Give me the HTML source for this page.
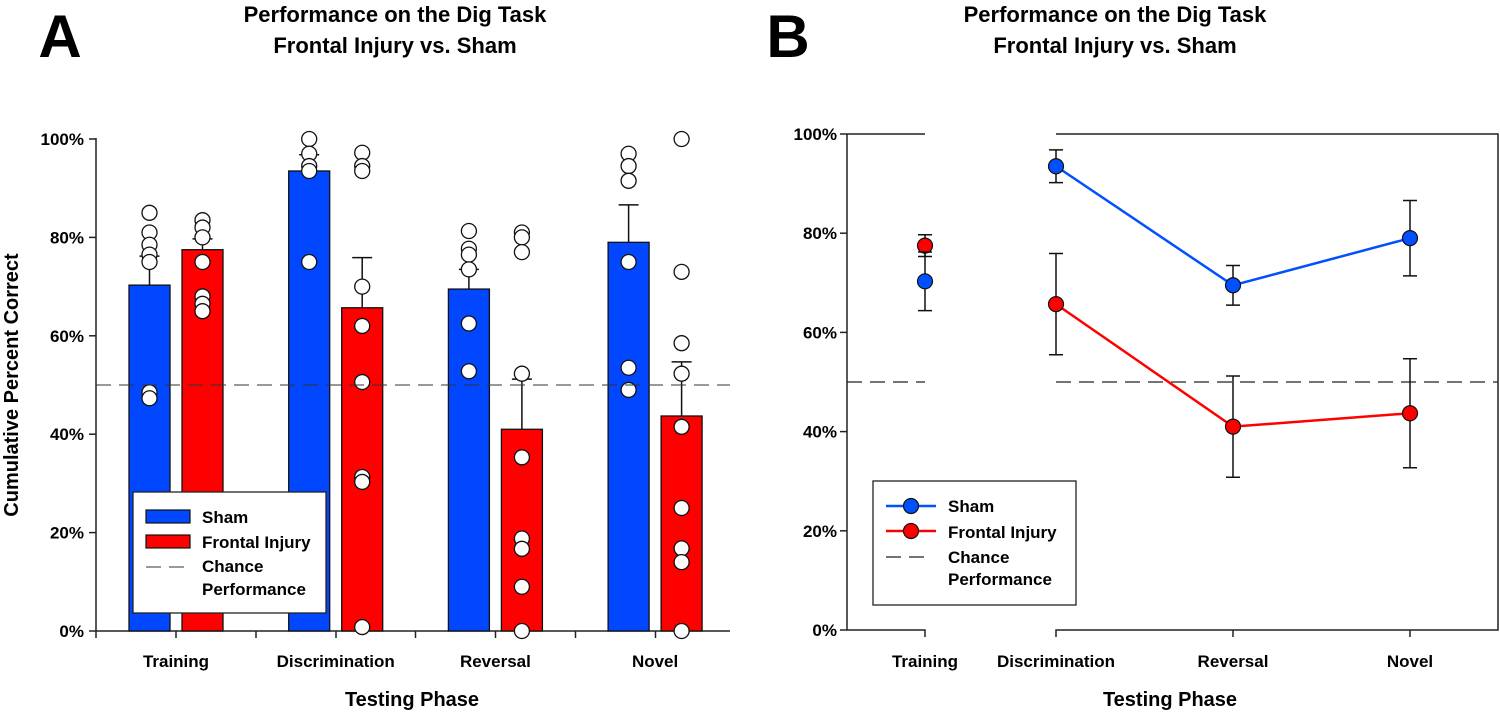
<!DOCTYPE html>
<html><head><meta charset="utf-8"><style>
html,body{margin:0;padding:0;background:#fff;}
svg{display:block;font-family:"Liberation Sans",Arial,sans-serif;font-weight:bold;}
</style></head><body>
<svg id="chart" width="1500" height="715" viewBox="0 0 1500 715" xmlns="http://www.w3.org/2000/svg">
<g id="gA"></g>
<g id="gB"></g>
</svg>
<script>
const categories = ["Training","Discrimination","Reversal","Novel"];
const shamMeans = [70.3, 93.5, 69.5, 79.0];
const shamSE = [5.9, 3.3, 4.0, 7.6];
const injuryMeans = [77.5, 65.7, 41.0, 43.7];
const injurySE = [2.2, 10.2, 10.2, 11.0];
const chance = 50;
const yTicks = [0,20,40,60,80,100];
const shamDots = [[85,81,78.5,76.5,75,48.5,47.3],[100,97,94.5,93.5,75],[81.3,77.7,76.5,73.5,62.5,52.8],[97,94.5,91.5,75,53.5,49]];
const injuryDots = [[83.5,82,80,75,68,66.5,65],[97.2,94.5,93.5,70,62,50.6,31.3,30.3,0.8],[81,80,77,52.3,35.3,18.8,16.7,9,0],[100,73,58.5,52.3,41.5,25,16.8,14,0]];

const NS="http://www.w3.org/2000/svg";
function mk(p,tag,attrs,txt){const e=document.createElementNS(NS,tag);for(const k in attrs)e.setAttribute(k,attrs[k]);if(txt!==undefined)e.textContent=txt;p.appendChild(e);return e;}
const svg=document.getElementById('chart');
const gA=document.getElementById('gA'), gB=document.getElementById('gB');

let t;
t=mk(svg,'text',{x:60,y:57,'font-size':60,'text-anchor':'middle'},'A');


t=mk(svg,'text',{x:788,y:57,'font-size':60,'text-anchor':'middle'},'B');


[[395,'panel-a-title'],[1115,'panel-b-title']].forEach(([cx,n])=>{
  const tt=mk(svg,'text',{x:cx,y:22,'font-size':22,'text-anchor':'middle'});
  
  
  mk(tt,'tspan',{x:cx,y:22},'Performance on the Dig Task');
  mk(tt,'tspan',{x:cx,y:53},'Frontal Injury vs. Sham');
});

// ---------- Panel A ----------
const aX0=96, aX1=730, aY0=631, aY1=139;
const ay=v=>aY0+(aY1-aY0)*v/100;
const acx=i=>176+i*159.7;
mk(gA,'line',{x1:aX0,y1:aY1-1,x2:aX0,y2:aY0,stroke:'#222','stroke-width':1.5});
mk(gA,'line',{x1:aX0,y1:aY0,x2:aX1,y2:aY0,stroke:'#222','stroke-width':1.5});
yTicks.forEach(v=>{
  mk(gA,'line',{x1:aX0-7,y1:ay(v),x2:aX0,y2:ay(v),stroke:'#222','stroke-width':1.5});
  t=mk(gA,'text',{x:aX0-12,y:ay(v)+6,'font-size':17,'text-anchor':'end'},v+'%');
  
  
});
for(let k=0;k<8;k++){const x=aX0+80*k+(k>3?-0.5:0);mk(gA,'line',{x1:x,y1:aY0,x2:x,y2:aY0+7,stroke:'#222','stroke-width':1.5});}
categories.forEach((c,i)=>{
  t=mk(gA,'text',{x:acx(i),y:667,'font-size':17,'text-anchor':'middle'},c);
  
  
});
t=mk(gA,'text',{x:412,y:706,'font-size':20,'text-anchor':'middle'},'Testing Phase');


t=mk(gA,'text',{x:0,y:0,'font-size':20,'text-anchor':'middle',transform:'translate(18,385) rotate(-90)'},'Cumulative Percent Correct');



function barGroup(i,off,mean,se,dots,color,name){
  const x=acx(i)+off-20.5;
  const r=mk(gA,'rect',{x:x,y:ay(mean),width:41,height:aY0-ay(mean),fill:color,stroke:'#111','stroke-width':1.3});
  
  
  const cx=x+20.5;
  const e=mk(gA,'path',{d:`M${cx},${ay(mean)}V${ay(mean+se)}M${cx-10},${ay(mean+se)}H${cx+10}`,stroke:'#111','stroke-width':1.5,fill:'none'});
  
  
  dots.forEach(d=>{
    const c=mk(gA,'circle',{cx:cx,cy:ay(d),r:7.5,fill:'#fff',stroke:'#111','stroke-width':1.3});
    
    
  });
}
categories.forEach((c,i)=>{
  barGroup(i,-26.5,shamMeans[i],shamSE[i],shamDots[i],'#0047ff','bar-sham-'+c.toLowerCase());
  barGroup(i,26.5,injuryMeans[i],injurySE[i],injuryDots[i],'#ff0000','bar-injury-'+c.toLowerCase());
});
let dl=mk(gA,'line',{x1:aX0,y1:ay(chance),x2:aX1,y2:ay(chance),stroke:'#333','stroke-width':1,'stroke-dasharray':'15,8'});


const lgA=mk(gA,'g',{});


mk(lgA,'rect',{x:133,y:492,width:193,height:121,fill:'#fff',stroke:'#222','stroke-width':1.3});
mk(lgA,'rect',{x:146,y:510,width:44,height:13,fill:'#0047ff',stroke:'#111','stroke-width':1.2});
mk(lgA,'rect',{x:146,y:535,width:44,height:13,fill:'#ff0000',stroke:'#111','stroke-width':1.2});
mk(lgA,'line',{x1:146,y1:567,x2:186,y2:567,stroke:'#333','stroke-dasharray':'15,8'});
[['Sham',523],['Frontal Injury',548],['Chance',572],['Performance',595]].forEach(([s,y])=>{
  t=mk(lgA,'text',{x:202,y:y,'font-size':17},s);
  
  
});

// ---------- Panel B ----------
const bX0=847, bXR=1498, bY0=630, bY1=134;
const by=v=>bY0+(bY1-bY0)*v/100;
const bxs=[925,1056,1233,1410];
const bx=i=>bxs[i];
const ax='#222';
mk(gB,'path',{d:`M${bX0},${bY1}V${bY0}H${bx(0)}V${bY0+7}M${bx(0)},${bY1}H${bX0}`,stroke:ax,'stroke-width':1.5,fill:'none'});
mk(gB,'path',{d:`M${bx(1)},${bY0+7}V${bY0}H${bXR}V${bY1}H${bx(1)}`,stroke:ax,'stroke-width':1.5,fill:'none'});
[2,3].forEach(i=>mk(gB,'line',{x1:bx(i),y1:bY0,x2:bx(i),y2:bY0+7,stroke:ax,'stroke-width':1.5}));
yTicks.forEach(v=>{
  mk(gB,'line',{x1:bX0-7,y1:by(v),x2:bX0,y2:by(v),stroke:ax,'stroke-width':1.5});
  t=mk(gB,'text',{x:bX0-10,y:by(v)+6,'font-size':17,'text-anchor':'end'},v+'%');
  
  
});
categories.forEach((c,i)=>{
  t=mk(gB,'text',{x:bx(i),y:667,'font-size':17,'text-anchor':'middle'},c);
  
  
});
t=mk(gB,'text',{x:1170,y:706,'font-size':20,'text-anchor':'middle'},'Testing Phase');


dl=mk(gB,'line',{x1:bX0,y1:by(chance),x2:bx(0),y2:by(chance),stroke:'#222','stroke-width':1.3,'stroke-dasharray':'15,8'});


dl=mk(gB,'line',{x1:bx(1),y1:by(chance),x2:bXR,y2:by(chance),stroke:'#222','stroke-width':1.3,'stroke-dasharray':'15,8'});


function series(means,se,color,name){
  let d='';
  for(let i=1;i<means.length;i++)d+=(i===1?'M':'L')+bx(i)+','+by(means[i]);
  const l=mk(gB,'path',{d:d,stroke:color,'stroke-width':2.5,fill:'none'});
  
  
  means.forEach((m,i)=>{
    const x=bx(i);
    const e=mk(gB,'path',{d:`M${x},${by(m-se[i])}V${by(m+se[i])}M${x-7},${by(m-se[i])}H${x+7}M${x-7},${by(m+se[i])}H${x+7}`,stroke:'#111','stroke-width':1.5,fill:'none'});
    
    
  });
  means.forEach((m,i)=>{
    const c=mk(gB,'circle',{cx:bx(i),cy:by(m),r:7.5,fill:color,stroke:'#111','stroke-width':1.2});
    
    
  });
}
series(injuryMeans,injurySE,'#ff0000','injury');
series(shamMeans,shamSE,'#0050ff','sham');
const lgB=mk(gB,'g',{});


mk(lgB,'rect',{x:873,y:481,width:203,height:124,fill:'#fff',stroke:'#222','stroke-width':1.3});
mk(lgB,'line',{x1:886,y1:506,x2:936,y2:506,stroke:'#0050ff','stroke-width':2.5});
mk(lgB,'circle',{cx:911,cy:506,r:7.5,fill:'#0050ff',stroke:'#111','stroke-width':1.2});
mk(lgB,'line',{x1:886,y1:531,x2:936,y2:531,stroke:'#ff0000','stroke-width':2.5});
mk(lgB,'circle',{cx:911,cy:531,r:7.5,fill:'#ff0000',stroke:'#111','stroke-width':1.2});
mk(lgB,'line',{x1:886,y1:557,x2:930,y2:557,stroke:'#222','stroke-width':1.3,'stroke-dasharray':'15,8'});
[['Sham',512],['Frontal Injury',538],['Chance',563],['Performance',585]].forEach(([s,y])=>{
  t=mk(lgB,'text',{x:948,y:y,'font-size':17},s);
  
  
});
</script>
</body></html>
